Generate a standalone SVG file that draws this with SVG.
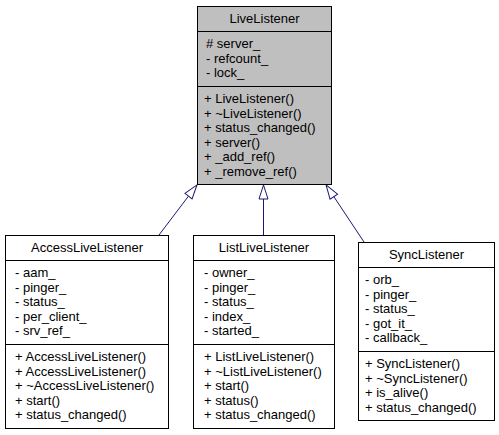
<svg xmlns="http://www.w3.org/2000/svg" width="499" height="435" viewBox="0 0 499 435">
<style>
text{font-family:"Liberation Sans",Arial,Helvetica,sans-serif;font-size:13px;fill:#000}
.t{text-anchor:middle}
.box{stroke:#000;stroke-width:1}
.sep{stroke:#000;stroke-width:1}
.edge{stroke:#191970;stroke-width:1;fill:none}
</style>
<defs>
<marker id="inh" markerUnits="userSpaceOnUse" markerWidth="16" markerHeight="12" viewBox="0 0 16 12" refX="0" refY="5.5" orient="auto" overflow="visible">
<path d="M0,1 L14,5.5 L0,10 z" fill="#fff" stroke="#191970" stroke-width="1"/>
</marker>
</defs>
<rect width="499" height="435" fill="#fff"/>
<g id="connectors">
<line class="edge" x1="159" y1="235" x2="188.5" y2="196.1" marker-end="url(#inh)"/>
<line class="edge" x1="263.5" y1="235" x2="263.5" y2="199" marker-end="url(#inh)"/>
<line class="edge" x1="364" y1="242" x2="333.8" y2="196.6" marker-end="url(#inh)"/>
</g>
<g id="LiveListener">
<rect class="box" x="197.5" y="6.5" width="134" height="178" fill="#bfbfbf"/>
<line class="sep" x1="197.5" y1="31.5" x2="331.5" y2="31.5"/>
<line class="sep" x1="197.5" y1="86.5" x2="331.5" y2="86.5"/>
<text class="t" x="264.5" y="23">LiveListener</text>
<text x="206" y="48"># server_</text>
<text x="206" y="62.5">- refcount_</text>
<text x="206" y="77">- lock_</text>
<text x="204" y="103">+ LiveListener()</text>
<text x="204" y="117.5">+ ~LiveListener()</text>
<text x="204" y="132">+ status_changed()</text>
<text x="204" y="146.5">+ server()</text>
<text x="204" y="161">+ _add_ref()</text>
<text x="204" y="175.5">+ _remove_ref()</text>
</g>
<g id="AccessLiveListener">
<rect class="box" x="5.5" y="235.5" width="163" height="193" fill="#fff"/>
<line class="sep" x1="5.5" y1="260.5" x2="168.5" y2="260.5"/>
<line class="sep" x1="5.5" y1="344.5" x2="168.5" y2="344.5"/>
<text class="t" x="87" y="252">AccessLiveListener</text>
<text x="15" y="277">- aam_</text>
<text x="15" y="291.5">- pinger_</text>
<text x="15" y="306">- status_</text>
<text x="15" y="320.5">- per_client_</text>
<text x="15" y="335">- srv_ref_</text>
<text x="15" y="361">+ AccessLiveListener()</text>
<text x="15" y="375.5">+ AccessLiveListener()</text>
<text x="15" y="390">+ ~AccessLiveListener()</text>
<text x="15" y="404.5">+ start()</text>
<text x="15" y="419">+ status_changed()</text>
</g>
<g id="ListLiveListener">
<rect class="box" x="193.5" y="235.5" width="141" height="193" fill="#fff"/>
<line class="sep" x1="193.5" y1="260.5" x2="334.5" y2="260.5"/>
<line class="sep" x1="193.5" y1="344.5" x2="334.5" y2="344.5"/>
<text class="t" x="264" y="252">ListLiveListener</text>
<text x="204" y="277">- owner_</text>
<text x="204" y="291.5">- pinger_</text>
<text x="204" y="306">- status_</text>
<text x="204" y="320.5">- index_</text>
<text x="204" y="335">- started_</text>
<text x="204" y="361">+ ListLiveListener()</text>
<text x="204" y="375.5">+ ~ListLiveListener()</text>
<text x="204" y="390">+ start()</text>
<text x="204" y="404.5">+ status()</text>
<text x="204" y="419">+ status_changed()</text>
</g>
<g id="SyncListener">
<rect class="box" x="358.5" y="242.5" width="136" height="178" fill="#fff"/>
<line class="sep" x1="358.5" y1="267.5" x2="494.5" y2="267.5"/>
<line class="sep" x1="358.5" y1="351.5" x2="494.5" y2="351.5"/>
<text class="t" x="426.5" y="259">SyncListener</text>
<text x="365" y="284">- orb_</text>
<text x="365" y="298.5">- pinger_</text>
<text x="365" y="313">- status_</text>
<text x="365" y="327.5">- got_it_</text>
<text x="365" y="342">- callback_</text>
<text x="365" y="368">+ SyncListener()</text>
<text x="365" y="382.5">+ ~SyncListener()</text>
<text x="365" y="397">+ is_alive()</text>
<text x="365" y="411.5">+ status_changed()</text>
</g>
</svg>
